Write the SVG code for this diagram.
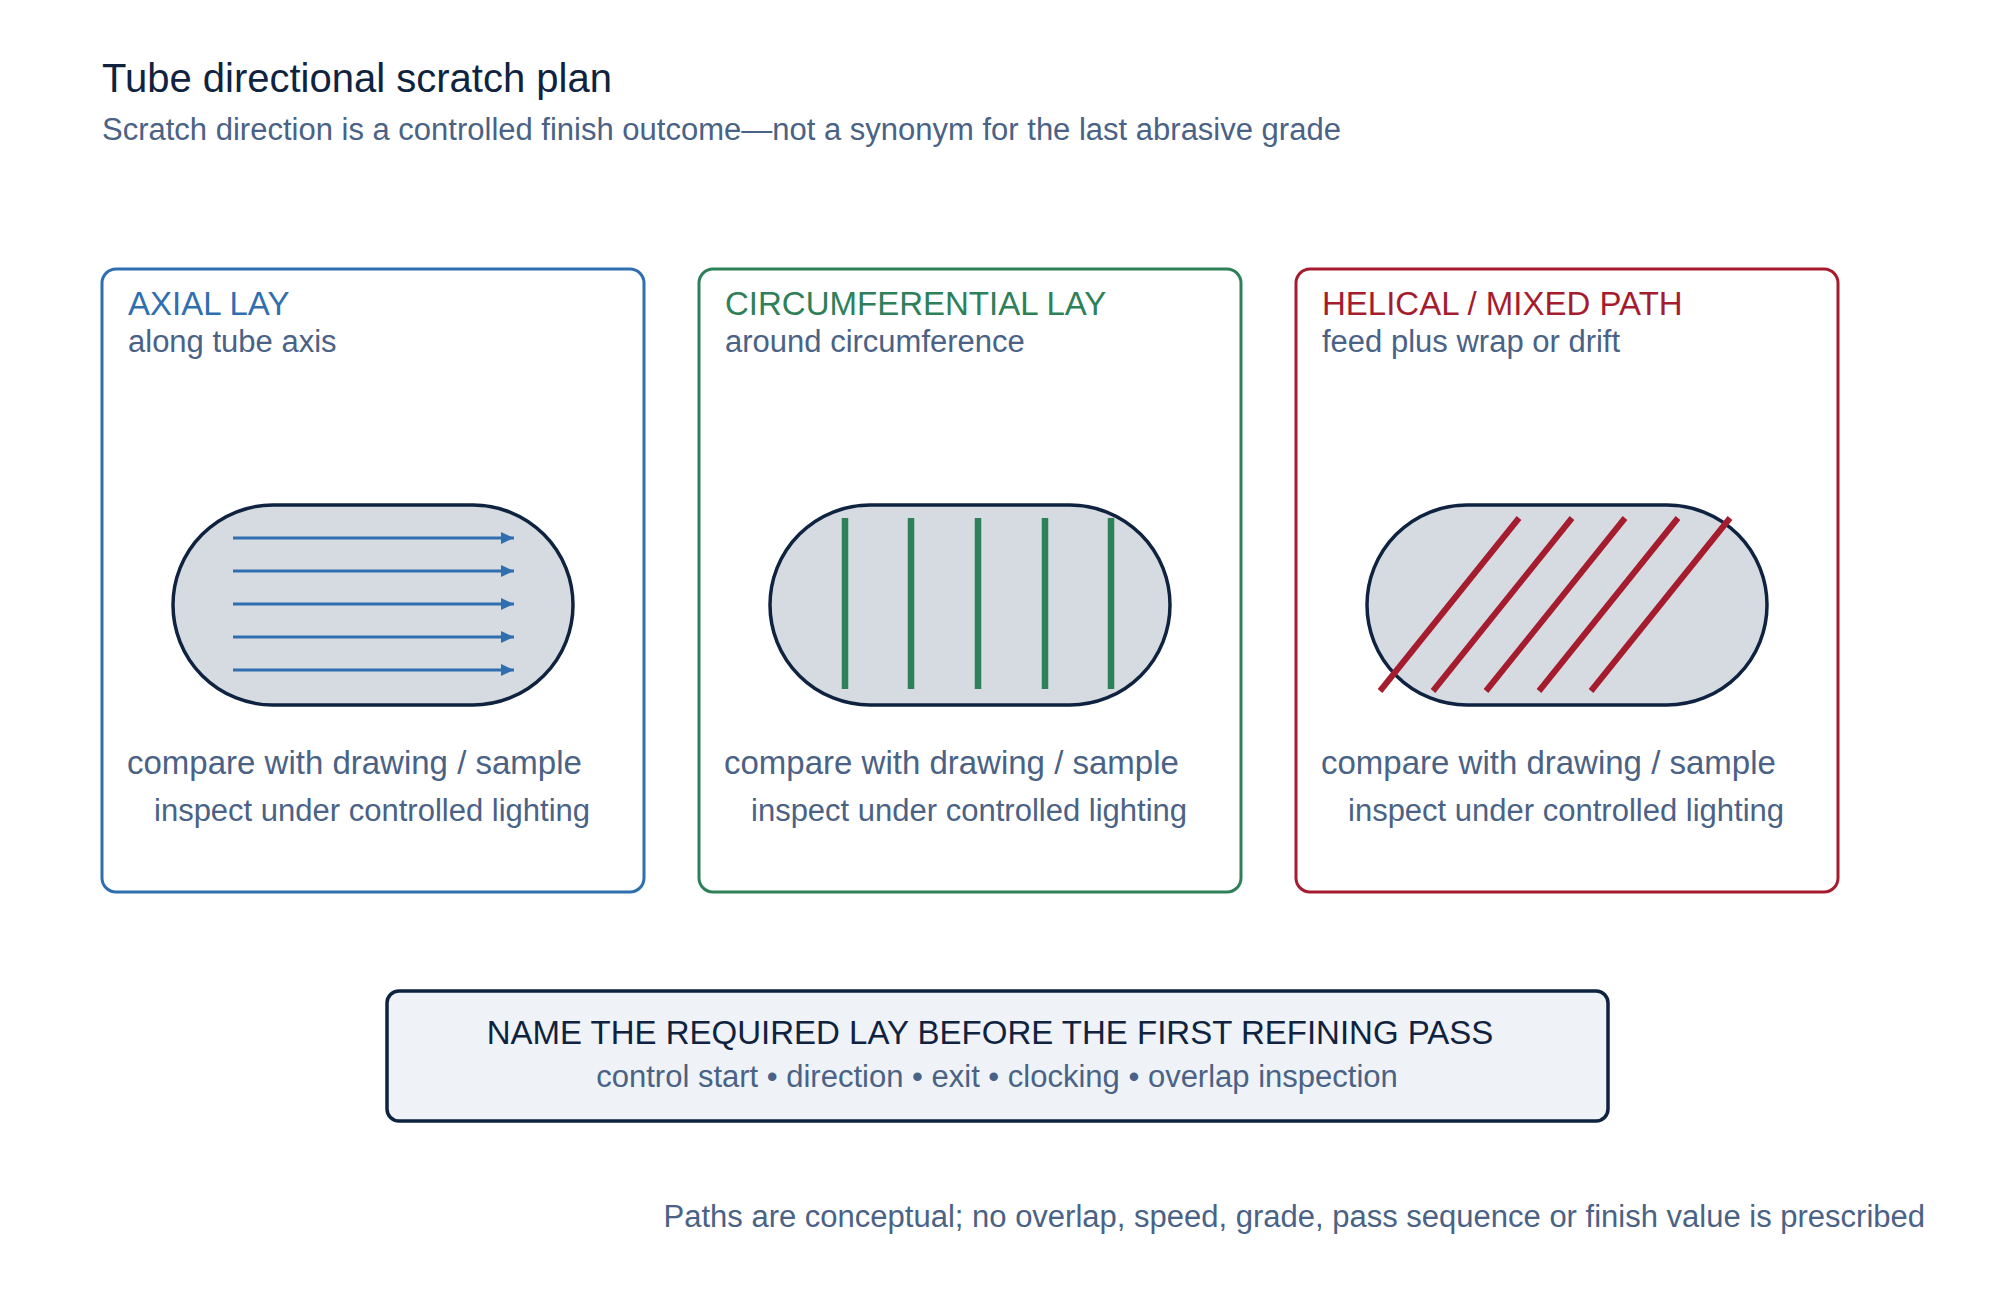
<svg xmlns="http://www.w3.org/2000/svg" width="1994" height="1300" viewBox="0 0 1994 1300">
<defs>
<style>
text{font-family:"Liberation Sans",Arial,Helvetica,sans-serif}
.title{font-size:40px;fill:#0f2340}
.sub{font-size:31px;fill:#4a6285}
.hdr{font-size:33px}
.body{font-size:33px;fill:#4a6285}
.body2{font-size:31px;fill:#4a6285}
.panel{fill:#ffffff;stroke-width:3}
.tube{fill:#d5dbe1;stroke:#0f2340;stroke-width:3.5}
.ax{stroke:#2f6fb0;stroke-width:3;fill:none}
.ci{stroke:#2e8059;stroke-width:6.5;fill:none}
.he{stroke:#a51c2f;stroke-width:6;fill:none}
</style>
<marker id="ah" markerUnits="userSpaceOnUse" markerWidth="14" markerHeight="12" refX="13" refY="6" orient="auto">
<path d="M0,0 L13,6 L0,12 Z" fill="#2f6fb0"/>
</marker>
</defs>
<rect width="1994" height="1300" fill="#ffffff"/>
<g id="header">
<text class="title" x="102" y="92">Tube directional scratch plan</text>
<text class="sub" x="102" y="140">Scratch direction is a controlled finish outcome—not a synonym for the last abrasive grade</text>
</g>
<g id="axial">
<rect class="panel" x="102" y="269" width="542" height="623" rx="14" stroke="#2f6fb0"/>
<text class="hdr" x="128" y="315" fill="#2f6fb0">AXIAL LAY</text>
<text class="sub" x="128" y="352">along tube axis</text>
<rect class="tube" x="173" y="505" width="400" height="200" rx="100"/>
<line class="ax" x1="233" y1="538" x2="514" y2="538" marker-end="url(#ah)"/>
<line class="ax" x1="233" y1="571" x2="514" y2="571" marker-end="url(#ah)"/>
<line class="ax" x1="233" y1="604" x2="514" y2="604" marker-end="url(#ah)"/>
<line class="ax" x1="233" y1="637" x2="514" y2="637" marker-end="url(#ah)"/>
<line class="ax" x1="233" y1="670" x2="514" y2="670" marker-end="url(#ah)"/>
<text class="body" x="127" y="774">compare with drawing / sample</text>
<text class="body2" x="154" y="821">inspect under controlled lighting</text>
</g>
<g id="circumferential">
<rect class="panel" x="699" y="269" width="542" height="623" rx="14" stroke="#2e8059"/>
<text class="hdr" x="725" y="315" fill="#2e8059">CIRCUMFERENTIAL LAY</text>
<text class="sub" x="725" y="352">around circumference</text>
<rect class="tube" x="770" y="505" width="400" height="200" rx="100"/>
<line class="ci" x1="845" y1="518" x2="845" y2="689"/>
<line class="ci" x1="911" y1="518" x2="911" y2="689"/>
<line class="ci" x1="978" y1="518" x2="978" y2="689"/>
<line class="ci" x1="1045" y1="518" x2="1045" y2="689"/>
<line class="ci" x1="1111" y1="518" x2="1111" y2="689"/>
<text class="body" x="724" y="774">compare with drawing / sample</text>
<text class="body2" x="751" y="821">inspect under controlled lighting</text>
</g>
<g id="helical">
<rect class="panel" x="1296" y="269" width="542" height="623" rx="14" stroke="#a51c2f"/>
<text class="hdr" x="1322" y="315" fill="#a51c2f">HELICAL / MIXED PATH</text>
<text class="sub" x="1322" y="352">feed plus wrap or drift</text>
<rect class="tube" x="1367" y="505" width="400" height="200" rx="100"/>
<line class="he" x1="1380" y1="691" x2="1519" y2="518"/>
<line class="he" x1="1433" y1="691" x2="1572" y2="518"/>
<line class="he" x1="1486" y1="691" x2="1625" y2="518"/>
<line class="he" x1="1539" y1="691" x2="1678" y2="518"/>
<line class="he" x1="1591" y1="691" x2="1730" y2="518"/>
<text class="body" x="1321" y="774">compare with drawing / sample</text>
<text class="body2" x="1348" y="821">inspect under controlled lighting</text>
</g>
<g id="requirement">
<rect x="387" y="991" width="1221" height="130" rx="12" fill="#eff3f7" stroke="#0f2340" stroke-width="3.5"/>
<text x="990" y="1044" text-anchor="middle" style="font-size:33px;fill:#0f2340">NAME THE REQUIRED LAY BEFORE THE FIRST REFINING PASS</text>
<text class="body2" x="997" y="1087" text-anchor="middle">control start • direction • exit • clocking • overlap inspection</text>
</g>
<g id="footnote">
<text class="body2" x="1925" y="1227" text-anchor="end">Paths are conceptual; no overlap, speed, grade, pass sequence or finish value is prescribed</text>
</g>
<g id="connectors"/>
</svg>
